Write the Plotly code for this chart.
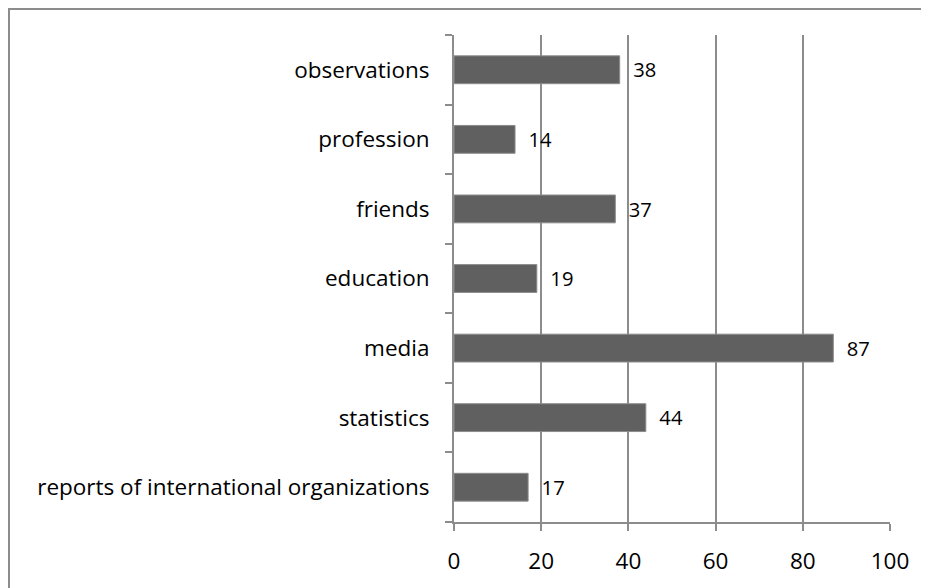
import plotly.graph_objects as go

categories = ["reports of international organizations", "statistics", "media",
              "education", "friends", "profession", "observations"]
counts = [17, 44, 87, 19, 37, 14, 38]
x_ticks = [0, 20, 40, 60, 80, 100]

font = dict(family="Open Sans", size=22.5, color="black")
grey = "#8c8c8c"

# figure sits 8px in from the page corner (body margin), so sizes are trimmed
W, H = 921, 580
L, T, PW, PH = 446, 27, 436, 489

fig = go.Figure(go.Bar(
    y=categories, x=counts, orientation="h",
    marker=dict(color="#606060", line=dict(color=grey, width=1)),
    text=["\u00a0\u00a0" + str(v) for v in counts], textposition="outside",
    cliponaxis=False, textfont=font, width=0.4,
))

fig.update_layout(
    width=W, height=H,
    margin=dict(l=L, r=W - L - PW, t=T, b=H - T - PH),
    plot_bgcolor="white", paper_bgcolor="white",
    font=font, showlegend=False,
    xaxis=dict(range=[0, 100], tickvals=x_ticks, showgrid=True,
               gridcolor=grey, gridwidth=2, showline=True, linecolor=grey,
               linewidth=2, ticks="outside", ticklen=7, tickcolor=grey,
               tickwidth=2, zeroline=False, ticklabelstandoff=11, fixedrange=True),
    yaxis=dict(categoryorder="array", categoryarray=categories, showline=True,
               linecolor=grey, linewidth=2, ticks="outside", tickson="boundaries",
               ticklen=7, tickcolor=grey, tickwidth=2, showgrid=False,
               ticklabelstandoff=18, fixedrange=True),
    shapes=[dict(type="rect", xref="paper", yref="paper",
                 x0=(1 - L) / PW, x1=1 + 100 / PW, y0=-1, y1=1 + (T - 1) / PH,
                 line=dict(color=grey, width=2))],
)

fig.write_html("out.html")
